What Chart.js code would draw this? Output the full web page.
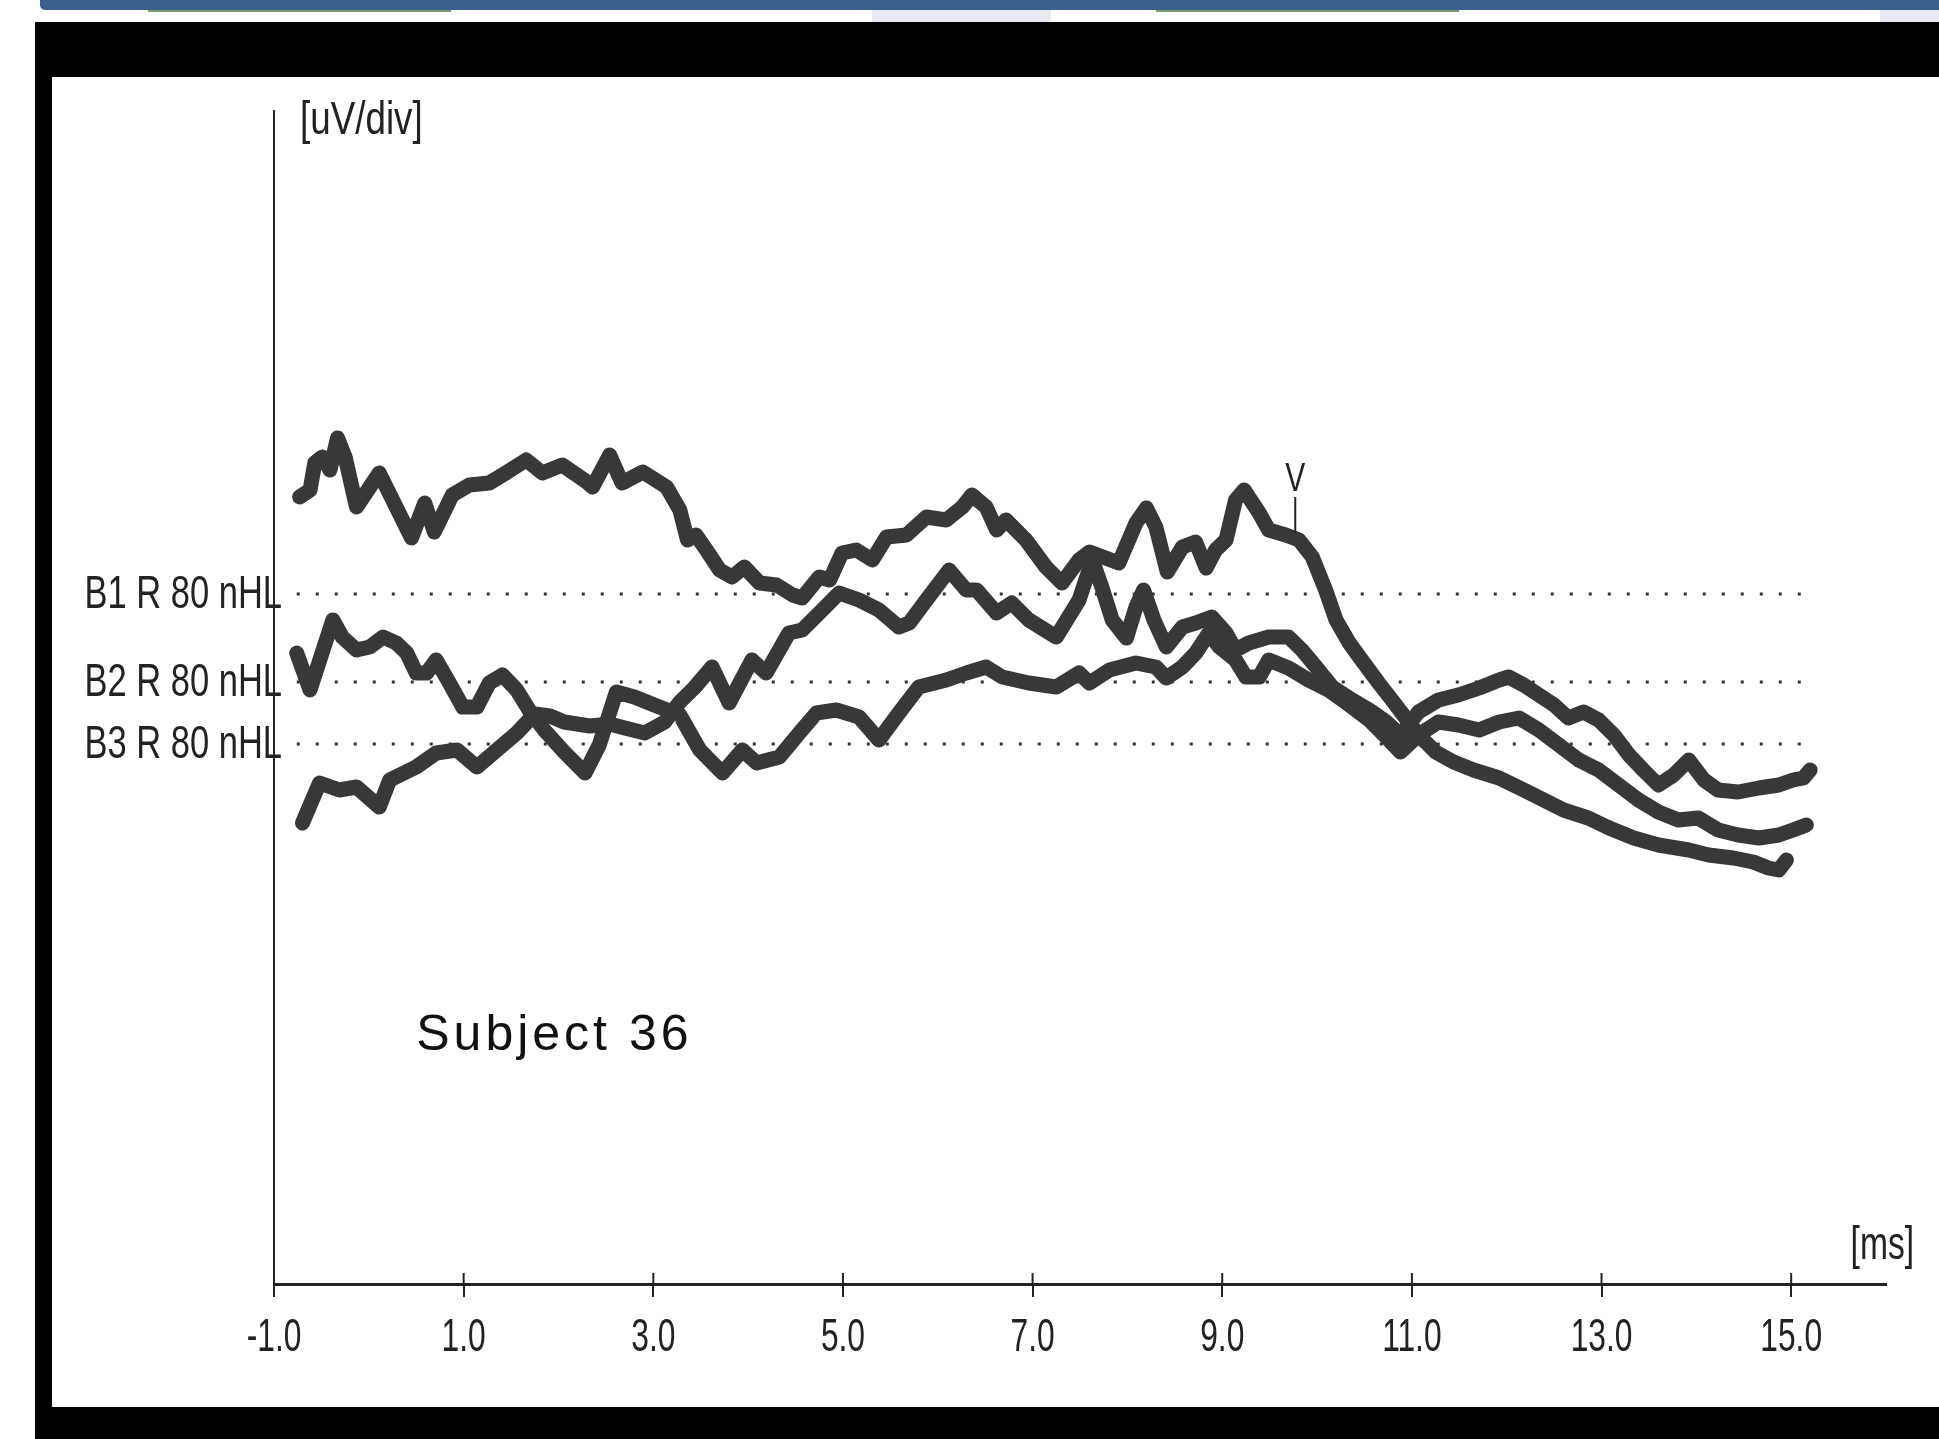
<!DOCTYPE html>
<html>
<head>
<meta charset="utf-8">
<script src="https://cdn.jsdelivr.net/npm/chart.js@4.4.1/dist/chart.umd.min.js"></script>
<style>
  html, body { margin: 0; padding: 0; background: #fff; }
  #page { position: relative; width: 1939px; height: 1439px; overflow: hidden; background: #fff; }
  .blk { position: absolute; background: #000; }
  #topbar { position: absolute; left: 40px; top: 0; width: 1899px; height: 10px; background: #3b5f8e; border-radius: 0 0 0 5px; }
  .lav { position: absolute; top: 10px; height: 12px; background: #e9e9f5; }
  .grn { position: absolute; top: 10px; height: 2px; background: #7d9a6e; }
  #wrap { position: absolute; left: 52px; top: 77px; width: 1887px; height: 1330px; }
</style>
</head>
<body>
<div id="page">
  <div id="topbar"></div>
  <div class="lav" style="left:872px;width:179px"></div>
  <div class="lav" style="left:1880px;width:59px"></div>
  <div class="grn" style="left:148px;width:303px"></div>
  <div class="grn" style="left:1156px;width:303px"></div>
  <div class="blk" style="left:35px;top:22px;width:1904px;height:55px"></div>
  <div class="blk" style="left:35px;top:22px;width:17px;height:1417px"></div>
  <div class="blk" style="left:35px;top:1407px;width:1904px;height:32px"></div>
  <div id="wrap"><canvas id="abrChart" width="1887" height="1330"></canvas></div>
</div>
<script>
// x axis (ms)
const timeTicks = [-1, 1, 3, 5, 7, 9, 11, 13, 15];
// baselines of the three runs
const baselineLabels = ["B1 R 80 nHL", "B2 R 80 nHL", "B3 R 80 nHL"];
const baselineLevels = [69.0, 60.2, 54.0];
const baselineSpan = [-0.76, 15.22];

// B1 trace
const b1Time = [-0.73, -0.62, -0.57, -0.49, -0.41, -0.33, -0.25, -0.13, 0.11, 0.45, 0.59, 0.69, 0.88, 1.06, 1.27, 1.41, 1.66, 1.83, 2.04, 2.30, 2.36, 2.54, 2.67, 2.89, 3.14, 3.28, 3.36,
  3.45, 3.56, 3.70, 3.83, 3.96, 4.12, 4.30, 4.47, 4.57, 4.75, 4.86, 4.99, 5.14, 5.31, 5.46, 5.67, 5.88, 6.09, 6.26, 6.36, 6.51, 6.62, 6.72, 6.93, 7.14, 7.31, 7.49,
  7.60, 7.91, 8.09, 8.20, 8.30, 8.42, 8.58, 8.72, 8.83, 8.93, 9.04, 9.14, 9.23, 9.39, 9.49, 9.67, 9.81, 9.95, 10.09, 10.20, 10.34, 10.47, 10.65, 10.79, 10.91,
  11.07, 11.25, 11.44, 11.65, 11.92, 12.18, 12.39, 12.60, 12.86, 13.08, 13.34, 13.60, 13.92, 14.13, 14.39, 14.60, 14.76, 14.87, 14.95];
const b1Amp = [78.7, 79.4, 82.1, 82.7, 81.4, 84.6, 82.7, 77.7, 81.1, 74.6, 78.1, 75.2, 78.9, 79.9, 80.1, 80.9, 82.4, 81.1, 81.9, 80.2, 79.7, 82.9, 80.1, 81.2, 79.7, 77.4, 74.4,
  74.9, 73.4, 71.4, 70.7, 71.7, 70.1, 69.9, 68.9, 68.6, 70.7, 70.4, 73.1, 73.4, 72.4, 74.7, 74.9, 76.7, 76.4, 77.7, 78.9, 77.7, 75.4, 76.4, 74.4, 71.7, 70.1, 72.4,
  73.2, 72.1, 76.1, 77.6, 75.7, 71.2, 73.7, 74.2, 71.6, 73.4, 74.4, 78.4, 79.4, 77.1, 75.4, 74.9, 74.4, 72.7, 69.4, 66.4, 64.1, 62.4, 60.1, 58.4, 56.9,
  54.9, 53.2, 52.2, 51.4, 50.6, 49.4, 48.4, 47.4, 46.6, 45.6, 44.6, 43.9, 43.4, 42.9, 42.6, 42.2, 41.6, 41.4, 42.4];

// B2 trace
const b2Time = [-0.76, -0.62, -0.38, -0.28, -0.13, 0.01, 0.15, 0.29, 0.40, 0.50, 0.61, 0.71, 0.85, 0.99, 1.14, 1.27, 1.41, 1.56, 1.69, 1.85, 2.06, 2.28, 2.43, 2.61, 2.80, 3.01, 3.28,
  3.49, 3.73, 3.94, 4.09, 4.33, 4.54, 4.72, 4.93, 5.17, 5.38, 5.59, 5.80, 6.09, 6.30, 6.51, 6.68, 6.96, 7.25, 7.49,
  7.60, 7.81, 8.09, 8.30, 8.41, 8.58, 8.72, 8.86, 8.97, 9.14, 9.25, 9.39, 9.49, 9.70, 9.91, 10.12, 10.34, 10.55, 10.76, 10.88,
  11.07, 11.28, 11.49, 11.71, 11.92, 12.13, 12.34, 12.55, 12.76, 12.97, 13.18, 13.39, 13.60, 13.81, 14.02, 14.23, 14.44, 14.66, 14.87, 15.02, 15.16];
const b2Amp = [63.1, 59.4, 66.4, 64.7, 63.4, 63.7, 64.7, 64.1, 63.1, 61.1, 61.1, 62.4, 60.1, 57.7, 57.7, 60.1, 60.9, 59.4, 57.4, 55.4, 53.2, 51.1, 53.9, 59.2, 58.7, 57.9, 56.9,
  53.4, 51.1, 53.4, 52.1, 52.7, 55.1, 57.1, 57.4, 56.7, 54.4, 57.1, 59.7, 60.4, 61.1, 61.7, 60.7, 60.1, 59.7, 61.1,
  60.1, 61.4, 62.1, 61.7, 60.6, 61.7, 63.1, 65.1, 63.7, 62.4, 60.7, 60.7, 62.4, 61.6, 60.4, 59.4, 57.9, 56.4, 54.4, 53.2,
  54.9, 56.2, 55.9, 55.4, 56.2, 56.6, 55.4, 53.9, 52.4, 51.4, 49.9, 48.4, 47.2, 46.4, 46.6, 45.4, 44.9, 44.6, 44.9, 45.4, 45.9];

// B3 trace
const b3Time = [-0.70, -0.52, -0.31, -0.13, 0.11, 0.22, 0.50, 0.71, 0.93, 1.14, 1.35, 1.56, 1.75, 1.91, 2.06, 2.33, 2.54, 2.70, 2.91, 3.12, 3.28, 3.43,
  3.62, 3.80, 4.04, 4.19, 4.43, 4.57, 4.75, 4.96, 5.17, 5.38, 5.59, 5.70, 5.88, 6.12, 6.30, 6.41, 6.62, 6.78, 6.96, 7.25, 7.49,
  7.63, 7.73, 7.84, 7.99, 8.09, 8.17, 8.28, 8.41, 8.58, 8.72, 8.89, 9.04, 9.14, 9.28, 9.49, 9.70, 9.84, 9.99, 10.16, 10.37, 10.55, 10.73, 10.88,
  11.07, 11.28, 11.49, 11.71, 11.92, 12.02, 12.18, 12.34, 12.50, 12.65, 12.81, 12.97, 13.13, 13.29, 13.44, 13.60, 13.76, 13.92, 14.08, 14.23, 14.44, 14.66, 14.87, 15.02, 15.13, 15.20];
const b3Amp = [46.1, 50.1, 49.4, 49.7, 47.7, 50.4, 51.7, 53.1, 53.4, 51.7, 53.4, 55.1, 57.0, 56.8, 56.2, 55.8, 56.0, 55.6, 55.1, 56.2, 58.2, 59.6,
  61.7, 58.1, 62.4, 61.1, 65.1, 65.4, 67.1, 69.1, 68.4, 67.4, 65.7, 66.1, 68.4, 71.4, 69.4, 69.4, 67.1, 68.1, 66.4, 64.7, 68.4,
  72.4, 69.7, 66.4, 64.6, 67.7, 69.4, 66.4, 63.7, 65.7, 66.1, 66.7, 65.1, 63.4, 64.1, 64.7, 64.7, 63.4, 61.7, 59.7, 58.4, 57.4, 56.2, 54.9,
  57.2, 58.4, 58.9, 59.6, 60.4, 60.7, 59.9, 58.9, 57.9, 56.6, 57.2, 56.4, 54.9, 52.9, 51.4, 49.9, 50.9, 52.4, 50.4, 49.4, 49.2, 49.6, 49.9, 50.4, 50.6, 51.4];

// wave V marker
const waveVTime = 9.77;
const waveVAmp = [78.7, 75.1];
const subjectLabel = "Subject 36";

const sans = "'Liberation Sans', Arial, sans-serif";
const ink = "#222";
const traceColor = "#383838";

function toPoints(t, a) {
  return t.map((v, i) => ({ x: v, y: a[i] }));
}

// the device font is a narrow one: regular sans squeezed sideways
function narrowText(ctx, text, x, y, size, squeeze, align, baseline) {
  ctx.save();
  ctx.font = size + "px " + sans;
  ctx.textAlign = align;
  ctx.textBaseline = baseline;
  ctx.translate(x, y);
  ctx.scale(squeeze, 1);
  ctx.fillText(text, 0, 0);
  ctx.restore();
}

const traceStyle = {
  borderColor: traceColor,
  borderWidth: 15,
  pointRadius: 0,
  tension: 0,
  fill: false,
  borderJoinStyle: "round",
  borderCapStyle: "round",
  order: 0
};

const baselineSets = baselineLevels.map(level => ({
  data: baselineSpan.map(t => ({ x: t, y: level })),
  borderColor: "#333",
  borderWidth: 3,
  borderDash: [3, 16],
  pointRadius: 0,
  fill: false,
  order: 1
}));

// tick labels, inner tick halves, wave V marker, units, subject text
const extras = {
  id: "extras",
  afterDraw(chart) {
    const { ctx, chartArea, scales: { x, y } } = chart;
    ctx.save();
    ctx.strokeStyle = ink;
    ctx.fillStyle = ink;
    ctx.lineWidth = 2;
    x.ticks.forEach(t => {
      const px = x.getPixelForValue(t.value);
      ctx.beginPath();
      ctx.moveTo(px, chartArea.bottom);
      ctx.lineTo(px, chartArea.bottom - 11);
      ctx.stroke();
      narrowText(ctx, t.value.toFixed(1), px, chartArea.bottom + 54, 46, 0.69, "center", "middle");
    });
    y.ticks.forEach((t, i) => {
      narrowText(ctx, baselineLabels[i], chartArea.left + 8, y.getPixelForValue(t.value) + 1, 46, 0.75, "right", "middle");
    });

    const vx = x.getPixelForValue(waveVTime);
    ctx.beginPath();
    ctx.moveTo(vx, y.getPixelForValue(waveVAmp[0]));
    ctx.lineTo(vx, y.getPixelForValue(waveVAmp[1]));
    ctx.stroke();
    narrowText(ctx, "V", vx, y.getPixelForValue(waveVAmp[0]) + 3, 40, 0.75, "center", "bottom");

    narrowText(ctx, "[uV/div]", chartArea.left + 26, chartArea.top - 13, 46, 0.8, "left", "top");
    narrowText(ctx, "[ms]", chartArea.right + 28, chartArea.bottom - 15, 46, 0.73, "right", "bottom");

    ctx.fillStyle = "#111";
    ctx.font = "50px " + sans;
    ctx.letterSpacing = "4px";
    ctx.textAlign = "left";
    ctx.textBaseline = "alphabetic";
    ctx.fillText(subjectLabel, x.getPixelForValue(0.50), y.getPixelForValue(23.4));
    ctx.restore();
  }
};

new Chart(document.getElementById("abrChart").getContext("2d"), {
  type: "line",
  data: {
    datasets: [
      Object.assign({ label: "B1", data: toPoints(b1Time, b1Amp) }, traceStyle),
      Object.assign({ label: "B2", data: toPoints(b2Time, b2Amp) }, traceStyle),
      Object.assign({ label: "B3", data: toPoints(b3Time, b3Amp) }, traceStyle),
      ...baselineSets
    ]
  },
  options: {
    responsive: false,
    animation: false,
    devicePixelRatio: 1,
    layout: { padding: { top: 34, right: 53, left: 0, bottom: 0 } },
    plugins: { legend: { display: false }, tooltip: { enabled: false } },
    scales: {
      x: {
        type: "linear",
        min: -1,
        max: 16,
        afterBuildTicks: scale => { scale.ticks = timeTicks.map(v => ({ value: v })); },
        afterFit: scale => { scale.height = 123; },
        grid: { display: true, drawOnChartArea: false, drawTicks: true, tickLength: 13, color: ink, lineWidth: 2 },
        border: { display: true, color: ink, width: 3 },
        ticks: { display: false }
      },
      y: {
        type: "linear",
        min: 0,
        max: 117.3,
        afterBuildTicks: scale => { scale.ticks = baselineLevels.map(v => ({ value: v })); },
        afterFit: scale => { scale.width = 222; },
        grid: { display: false, drawTicks: false },
        border: { display: true, color: ink, width: 2 },
        ticks: { display: false }
      }
    }
  },
  plugins: [extras]
});
</script>
</body>
</html>
